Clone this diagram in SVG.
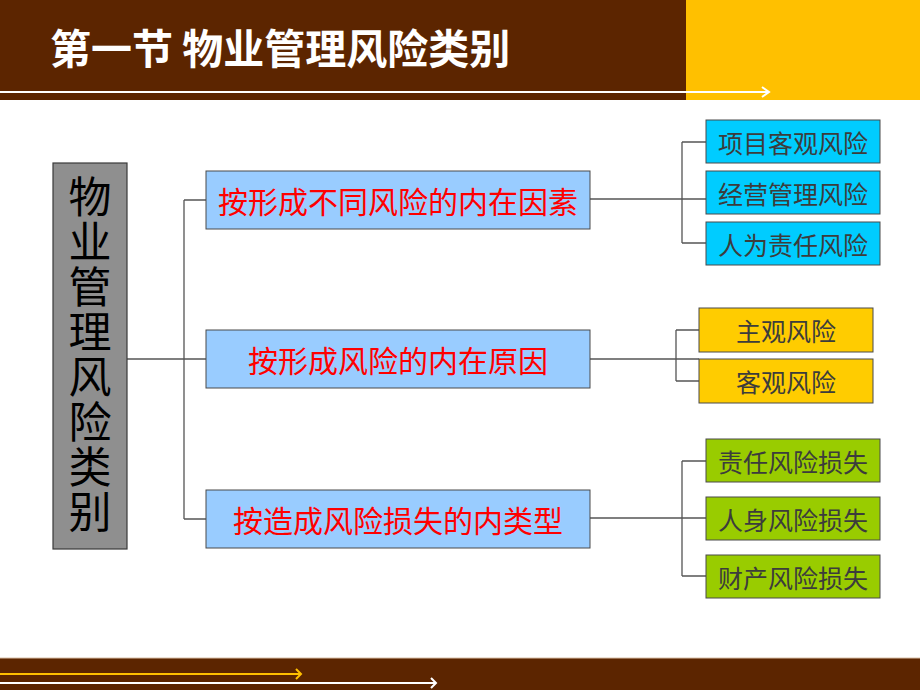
<svg xmlns="http://www.w3.org/2000/svg" width="920" height="690" viewBox="0 0 920 690">
<style>
.ln{stroke:#555;stroke-width:1.3;fill:none}
.bx{stroke:#4a4a4a;stroke-width:1}
.mid{fill:#99CCFF}
.rt{font-family:"Noto Sans CJK SC","Noto Sans",sans-serif;font-size:25px;fill:#3c3c3c;text-anchor:middle;dominant-baseline:central}
.rd{font-family:"Noto Sans CJK SC","Noto Sans",sans-serif;font-size:30px;fill:#FF0000;text-anchor:middle;dominant-baseline:central}
</style>
<rect width="920" height="690" fill="#fff"/>
<g id="header">
<rect x="0" y="0" width="686" height="100" fill="#5C2500"/>
<rect x="686" y="0" width="234" height="100" fill="#FFC000"/>
<line x1="0" y1="92" x2="768" y2="92" stroke="#fff" stroke-width="2"/>
<polyline points="762,87 769,92 762,97" fill="none" stroke="#fff" stroke-width="2"/>
<text x="50" y="64" font-family="'Noto Sans CJK SC',sans-serif" font-weight="bold" font-size="41" fill="#fff">第一节 物业管理风险类别</text>
</g>
<g id="footer">
<rect x="0" y="658" width="920" height="32" fill="#5C2500"/>
<line x1="0" y1="658" x2="920" y2="658" stroke="#d9c0a8" stroke-width="1"/>
<line x1="0" y1="674" x2="300" y2="674" stroke="#FFC000" stroke-width="2"/>
<polyline points="296,669 301,674 296,679" fill="none" stroke="#FFC000" stroke-width="2"/>
<line x1="0" y1="683" x2="435" y2="683" stroke="#fff" stroke-width="2"/>
<polyline points="431,678 436,683 431,688" fill="none" stroke="#fff" stroke-width="2"/>
</g>
<g id="connectors">
<path class="ln" d="M127,359 H206 M184,200 V519 M184,200 H206 M184,519 H206"/>
<path class="ln" d="M590,199 H706 M682,142 V243 M682,142 H706 M682,243 H706"/>
<path class="ln" d="M590,359 H699 M676,330 V381 M676,330 H699 M676,381 H699"/>
<path class="ln" d="M590,518 H706 M682,461 V576 M682,461 H706 M682,576 H706"/>
</g>
<g id="root">
<rect x="53" y="163" width="74" height="386" fill="#8F8F8F" stroke="#3a3a3a" stroke-width="1.2"/>
<text x="90" y="175" writing-mode="vertical-rl" font-family="'Noto Sans CJK SC',sans-serif" font-size="43" letter-spacing="2" fill="#000">物业管理风险类别</text>
</g>
<g id="m1"><rect class="mid bx" x="206" y="171" width="384" height="58"/><text class="rd" x="398" y="200">按形成不同风险的内在因素</text></g>
<g id="m2"><rect class="mid bx" x="206" y="330" width="384" height="58"/><text class="rd" x="398" y="359">按形成风险的内在原因</text></g>
<g id="m3"><rect class="mid bx" x="206" y="490" width="384" height="58"/><text class="rd" x="398" y="519">按造成风险损失的内类型</text></g>
<g id="c1"><rect class="bx" x="706" y="120" width="174" height="43" fill="#00CCFF"/><text class="rt" x="793" y="142">项目客观风险</text></g>
<g id="c2"><rect class="bx" x="706" y="171" width="174" height="43" fill="#00CCFF"/><text class="rt" x="793" y="193">经营管理风险</text></g>
<g id="c3"><rect class="bx" x="706" y="222" width="174" height="43" fill="#00CCFF"/><text class="rt" x="793" y="244">人为责任风险</text></g>
<g id="y1"><rect class="bx" x="699" y="308" width="174" height="44" fill="#FFCC00"/><text class="rt" x="786" y="330">主观风险</text></g>
<g id="y2"><rect class="bx" x="699" y="359" width="174" height="44" fill="#FFCC00"/><text class="rt" x="786" y="381">客观风险</text></g>
<g id="g1"><rect class="bx" x="706" y="439" width="174" height="43" fill="#99CC00"/><text class="rt" x="793" y="461">责任风险损失</text></g>
<g id="g2"><rect class="bx" x="706" y="497" width="174" height="43" fill="#99CC00"/><text class="rt" x="793" y="519">人身风险损失</text></g>
<g id="g3"><rect class="bx" x="706" y="555" width="174" height="43" fill="#99CC00"/><text class="rt" x="793" y="577">财产风险损失</text></g>
</svg>
